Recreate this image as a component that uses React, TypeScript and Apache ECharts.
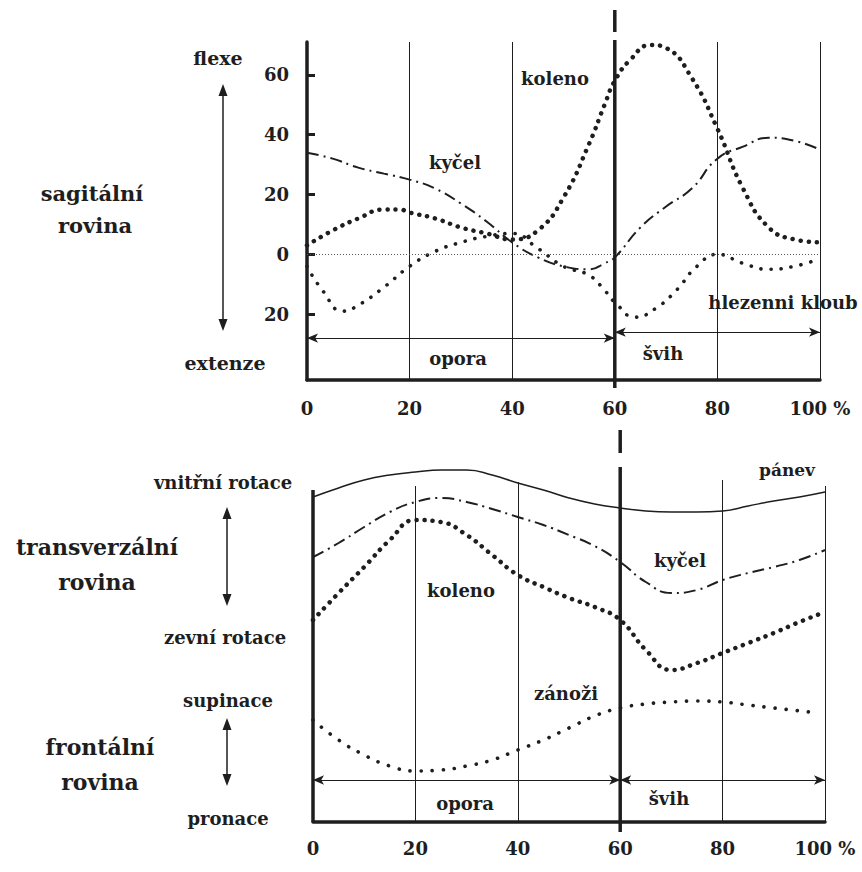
import React, { useEffect, useRef } from "react";
import * as echarts from "echarts";

// ---------- sagittal plane (degrees, flexion +, extension -) ----------
const hipSagX = [0, 5, 10, 15, 20, 25, 30, 35, 40, 45, 50, 55, 58, 60, 65, 70, 75, 80, 85, 90, 95, 100];
const hipSagY = [34, 32, 29, 27, 25, 22, 17, 11, 4, -1, -4, -5, -3, -1, 9, 16, 22, 32, 36, 39, 38, 35];

const kneeSagX = [0, 5, 10, 15, 18, 20, 25, 30, 35, 40, 45, 50, 55, 58, 60, 63, 67, 70, 75, 80, 85, 90, 95, 100];
const kneeSagY = [3, 8, 12, 15, 15, 14, 12, 9, 7, 5, 8, 19, 37, 50, 58, 65, 70, 69, 59, 42, 22, 9, 5, 4];

const ankleSagX = [0, 3, 7, 10, 15, 20, 25, 30, 35, 40, 45, 50, 55, 58, 60, 64, 68, 72, 76, 80, 85, 90, 95, 99];
const ankleSagY = [-4, -12, -19, -17, -11, -4, 1, 4, 6, 7, 2, -4, -7, -12, -16, -21, -18, -12, -4, 0, -3, -5, -4, -2];

const sagTicks = [-20, 0, 20, 40, 60];

// ---------- transverse / frontal planes (relative units, no scale) ----------
const lowX = [0, 5, 10, 15, 20, 25, 30, 35, 40, 45, 50, 55, 60, 65, 70, 75, 80, 85, 90, 95, 100];
const pelvisT = [325, 334, 342, 347, 350, 352, 352, 347, 339, 332, 324, 318, 314, 311, 310, 310, 311, 316, 321, 325, 330];
const hipT = [265, 279, 295, 310, 320, 324, 320, 313, 305, 297, 287, 276, 260, 240, 229, 232, 242, 249, 255, 262, 272];
const kneeT = [202, 229, 255, 282, 302, 300, 287, 267, 247, 235, 224, 215, 202, 172, 152, 159, 169, 179, 189, 200, 210];
const footFX = [0, 5, 10, 15, 20, 25, 30, 35, 40, 45, 50, 55, 60, 65, 70, 75, 80, 85, 90, 97];
const footF = [102, 82, 67, 56, 51, 52, 56, 62, 72, 82, 94, 106, 114, 118, 120, 121, 120, 117, 114, 110];

const stanceEnd = 60;

const FONT = '"DejaVu Serif", "Liberation Serif", serif';
const INK = "#1e1e1e";

const pairs = (xs: number[], ys: number[]) => xs.map((x, i) => [x, ys[i]]);

const dotted = (w: number, gap: number) => ({ color: INK, width: w, type: [0.1, gap], cap: "round" as const });
const dashDot = { color: INK, width: 2, type: [12, 5, 2, 5] };

export default function App() {
  const ref = useRef<HTMLDivElement>(null);

  useEffect(() => {
    if (!ref.current) return;
    const chart = echarts.init(ref.current, null, { renderer: "svg" });

    const xAxisBase = (gridIndex: number, margin: number) => ({
      gridIndex,
      type: "value" as const,
      min: 0,
      max: 100,
      interval: 20,
      axisLine: { show: true, onZero: false, lineStyle: { color: INK, width: 3.5 } },
      axisTick: { show: false },
      axisLabel: {
        margin,
        color: INK,
        fontFamily: FONT,
        fontWeight: "bold",
        fontSize: 18,
        formatter: (v: number) => (v === 100 ? "100 %" : String(v)),
      },
      splitLine: { show: false },
    });

    const arrowLine = (x1: number, x2: number, y: number) => [
      { coord: [x1, y], symbol: "arrow", symbolSize: [7, 11] },
      { coord: [x2, y], symbol: "arrow", symbolSize: [7, 11] },
    ];

    const vLine = (x: number, y1: number, y2: number, w = 1) => [
      { coord: [x, y1], lineStyle: { color: INK, width: w, type: "solid" } },
      { coord: [x, y2] },
    ];

    const option: any = {
      animation: false,
      backgroundColor: "#ffffff",
      grid: [
        { left: 307, top: 42, width: 513, height: 338 },
        { left: 313, top: 460, width: 512, height: 362 },
      ],
      xAxis: [
        {
          ...xAxisBase(0, 19),
          splitLine: { show: true, lineStyle: { color: INK, width: 1 } },
        },
        xAxisBase(1, 17),
      ],
      yAxis: [
        {
          gridIndex: 0,
          type: "value",
          min: -42,
          max: 71,
          axisLine: { show: true, onZero: false, lineStyle: { color: INK, width: 3.5 } },
          axisTick: {
            show: true,
            inside: true,
            length: 8,
            lineStyle: { color: INK, width: 3 },
            customValues: sagTicks,
          },
          axisLabel: {
            margin: 18,
            color: INK,
            fontFamily: FONT,
            fontWeight: "bold",
            fontSize: 18,
            customValues: sagTicks,
            formatter: (v: number) => String(Math.abs(v)),
          },
          splitLine: { show: false },
        },
        {
          gridIndex: 1,
          type: "value",
          min: 0,
          max: 362,
          axisLine: { show: false },
          axisTick: { show: false },
          axisLabel: { show: false },
          splitLine: { show: false },
        },
      ],
      series: [
        {
          name: "kyčel",
          type: "line",
          xAxisIndex: 0,
          yAxisIndex: 0,
          data: pairs(hipSagX, hipSagY),
          smooth: 0.5,
          showSymbol: false,
          lineStyle: dashDot,
          markLine: {
            silent: true,
            symbol: ["none", "none"],
            label: { show: false },
            lineStyle: { color: INK, width: 1.2, type: "solid" },
            data: [
              [
                { coord: [0, 0], lineStyle: { color: "#555", width: 1, type: [1, 2] } },
                { coord: [100, 0] },
              ],
              arrowLine(0, stanceEnd, -28),
              arrowLine(stanceEnd, 100, -26),
            ],
          },
        },
        {
          name: "koleno",
          type: "line",
          xAxisIndex: 0,
          yAxisIndex: 0,
          data: pairs(kneeSagX, kneeSagY),
          smooth: 0.5,
          showSymbol: false,
          lineStyle: dotted(4.5, 8),
        },
        {
          name: "hlezenní kloub",
          type: "line",
          xAxisIndex: 0,
          yAxisIndex: 0,
          data: pairs(ankleSagX, ankleSagY),
          smooth: 0.5,
          showSymbol: false,
          lineStyle: dotted(3.6, 10),
        },
        {
          name: "pánev",
          type: "line",
          xAxisIndex: 1,
          yAxisIndex: 1,
          data: pairs(lowX, pelvisT),
          smooth: 0.5,
          showSymbol: false,
          lineStyle: { color: INK, width: 1.5 },
          markLine: {
            silent: true,
            symbol: ["none", "none"],
            label: { show: false },
            lineStyle: { color: INK, width: 1.2, type: "solid" },
            data: [
              vLine(0, 332, 0, 3.5),
              vLine(20, 336, 0),
              vLine(40, 340, 0),
              vLine(80, 342, 0),
              vLine(100, 336, 0),
              arrowLine(0, stanceEnd, 42),
              arrowLine(stanceEnd, 100, 42),
            ],
          },
        },
        {
          name: "kyčel T",
          type: "line",
          xAxisIndex: 1,
          yAxisIndex: 1,
          data: pairs(lowX, hipT),
          smooth: 0.5,
          showSymbol: false,
          lineStyle: dashDot,
        },
        {
          name: "koleno T",
          type: "line",
          xAxisIndex: 1,
          yAxisIndex: 1,
          data: pairs(lowX, kneeT),
          smooth: 0.5,
          showSymbol: false,
          lineStyle: dotted(4.5, 8),
        },
        {
          name: "zánoži",
          type: "line",
          xAxisIndex: 1,
          yAxisIndex: 1,
          data: pairs(footFX, footF),
          smooth: 0.5,
          showSymbol: false,
          lineStyle: dotted(3.6, 11),
        },
      ],
    };

    chart.setOption(option);

    const px = (g: number, x: number, y: number) =>
      chart.convertToPixel({ xAxisIndex: g, yAxisIndex: g } as any, [x, y]) as number[];
    const top60 = px(0, stanceEnd, 0)[0];
    const bot60 = px(1, stanceEnd, 0)[0];

    const txt = (text: string, x: number, y: number, size = 18, weight: any = "bold") => ({
      type: "text",
      x,
      y,
      silent: true,
      style: {
        text,
        fill: INK,
        fontFamily: FONT,
        fontSize: size,
        fontWeight: weight,
        align: "center",
        verticalAlign: "middle",
        textAlign: "center",
        textVerticalAlign: "middle",
      },
    });
    const seg = (x: number, y1: number, y2: number, w: number) => ({
      type: "line",
      silent: true,
      shape: { x1: x, y1, x2: x, y2 },
      style: { stroke: INK, lineWidth: w },
    });
    const vArrow = (x: number, y1: number, y2: number) => [
      seg(x, y1 + 6, y2 - 6, 1.5),
      { type: "polygon", silent: true, shape: { points: [[x, y1], [x - 4.5, y1 + 12], [x + 4.5, y1 + 12]] }, style: { fill: INK } },
      { type: "polygon", silent: true, shape: { points: [[x, y2], [x - 4.5, y2 - 12], [x + 4.5, y2 - 12]] }, style: { fill: INK } },
    ];

    chart.setOption({
      graphic: [
        // stance / swing divider lines
        seg(top60, 10, 32, 3.5),
        seg(top60, 40, 388, 3.5),
        seg(bot60, 430, 453, 3.5),
        seg(bot60, 467, 832, 3.5),
        // sagittal plane annotations
        txt("flexe", 218, 58, 19),
        txt("extenze", 225, 363, 19),
        txt("sagitální", 92, 193, 21),
        txt("rovina", 95, 225, 21),
        ...vArrow(223, 84, 331),
        txt("kyčel", 455, 162, 18),
        txt("koleno", 555, 78, 18),
        txt("hlezenni kloub", 783, 302, 18),
        txt("opora", 458, 358, 18),
        txt("švih", 663, 353, 18),
        // transverse / frontal annotations
        txt("vnitřní rotace", 223, 482, 18),
        txt("zevní rotace", 225, 637, 18),
        txt("supinace", 228, 700, 18),
        txt("pronace", 228, 818, 18),
        txt("transverzální", 97, 547, 22),
        txt("rovina", 97, 582, 22),
        txt("frontální", 100, 747, 22),
        txt("rovina", 100, 782, 22),
        ...vArrow(227, 507, 606),
        ...vArrow(227, 718, 786),
        txt("pánev", 787, 470, 17),
        txt("kyčel", 680, 560, 18),
        txt("koleno", 461, 590, 18),
        txt("zánoži", 566, 693, 18),
        txt("opora", 465, 803, 18),
        txt("švih", 669, 798, 18),
      ],
    });

    return () => chart.dispose();
  }, []);

  return (
    <div
      ref={ref}
      style={{ position: "fixed", left: 0, top: 0, width: 862, height: 872, background: "#fff" }}
    />
  );
}
